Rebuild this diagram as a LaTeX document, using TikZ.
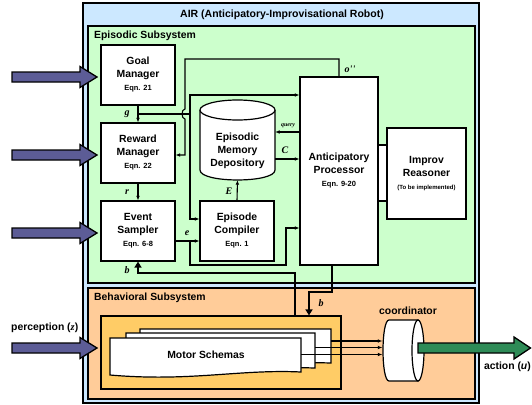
\documentclass[tikz,border=0pt]{standalone}
\usepackage{fontspec}
\setmainfont{Liberation Sans}
\newfontfamily\lblfont{Liberation Serif}
\usetikzlibrary{arrows.meta}
\definecolor{airblue}{RGB}{204,232,255}
\definecolor{epigreen}{RGB}{204,255,204}
\definecolor{behorange}{RGB}{255,204,153}
\definecolor{msyellow}{RGB}{255,204,102}
\definecolor{inpurple}{RGB}{92,92,150}
\definecolor{actgreen}{RGB}{46,139,87}
\newcommand{\eqnsz}{\fontsize{7.5}{9}\selectfont}
\begin{document}
\begin{tikzpicture}[x=1pt,y=-1pt,
  font=\bfseries\fontsize{10.4}{13}\selectfont,
  box/.style={draw, line width=1.2pt, fill=white, align=center, inner sep=0pt},
  cont/.style={draw, line width=1.2pt, inner sep=0pt},
  conn/.style={line width=1.1pt, -{Latex[length=4.5pt,width=3.8pt]}},
  plain/.style={line width=1.1pt},
  thickb/.style={line width=2.6pt, -{Triangle[length=6pt,width=7pt]}},
  lbl/.style={font=\lblfont\bfseries\itshape\fontsize{10}{12}\selectfont, inner sep=0pt},
  txt/.style={inner sep=0pt},
  fatarrow/.pic={\draw[line width=1.3pt, fill=inpurple, line join=miter] (0,-5) -- (68,-5) -- (68,-10.5) -- (85,0) -- (68,10.5) -- (68,5) -- (0,5) -- cycle;}
]
\useasboundingbox (0,0) rectangle (532,404);

% containers
\node[cont, line width=1.5pt, fill=airblue, minimum width=396pt, minimum height=400pt] (air) at (281,203) {};
\node[cont, fill=epigreen, minimum width=387pt, minimum height=257pt] (epi) at (281.5,154.5) {};
\node[cont, fill=behorange, minimum width=387pt, minimum height=111pt] (beh) at (281.5,343.5) {};
\node[txt, font=\bfseries\fontsize{10.5}{12}\selectfont] (title) at (282,15) {AIR (Anticipatory-Improvisational Robot)};
\node[txt, anchor=west] (epititle) at (94,36) {Episodic Subsystem};
\node[txt, anchor=west] (behtitle) at (94,298) {Behavioral Subsystem};

% boxes
\node[box, minimum width=74pt, minimum height=60pt] (goal) at (138,75) {Goal\\Manager\\\eqnsz Eqn. 21};
\node[box, minimum width=74pt, minimum height=60pt] (reward) at (138,153) {Reward\\Manager\\\eqnsz Eqn. 22};
\node[box, minimum width=74pt, minimum height=60pt] (event) at (138,231) {Event\\Sampler\\\eqnsz Eqn. 6-8};
\node[box, minimum width=74pt, minimum height=60pt] (compiler) at (237,231) {Episode\\Compiler\\\eqnsz Eqn. 1};
\node[box, minimum width=78pt, minimum height=188pt] (ap) at (339,171) {Anticipatory\\Processor\\\eqnsz Eqn. 9-20};
\node[box, minimum width=79pt, minimum height=91pt] (improv) at (426.5,173.5) {Improv\\Reasoner\\\fontsize{6}{8}\selectfont (To be implemented)};
\draw[line width=1.2pt, fill=white] (ap.east |- 0,145) rectangle (improv.west |- 0,201);

% memory cylinder
\draw[line width=1.2pt, fill=white] (200,110) -- (200,170) .. controls (200,183.3) and (275,183.3) .. (275,170) -- (275,110);
\draw[line width=1.2pt, fill=white] (237.5,110) ellipse [x radius=37.5, y radius=10];
\node[txt, align=center, minimum width=75pt, minimum height=80pt] (mem) at (237.5,140) {};
\node[txt, align=center] (memtext) at (237.5,151) {Episodic\\Memory\\Depository};

% behavioral: motor schemas
\node[cont, fill=msyellow, minimum width=240pt, minimum height=73pt] (ms) at (221,352.5) {};
\draw[line width=1.2pt, fill=white] (140,329) -- (331,329) -- (331,363) .. controls (270,361) and (220,373) .. (140,365) -- cycle;
\draw[line width=1.2pt, fill=white] (126,333) -- (315,333) -- (315,368) .. controls (255,366) and (205,378) .. (126,370) -- cycle;
\draw[line width=1.2pt, fill=white] (110,338) -- (301,338) -- (301,372) .. controls (240,369) and (190,382) .. (110,375) -- cycle;
\node[txt] (mstext) at (206,355) {Motor Schemas};

% coordinator
\node[txt, minimum width=41pt, minimum height=61pt] (coord) at (403,350.5) {};
\draw[line width=1.2pt, fill=white] (389,320) -- (418,320) -- (418,381) -- (389,381) .. controls (381,381) and (381,320) .. (389,320) -- cycle;
\draw[line width=1.2pt, fill=white] (418,350.5) ellipse [x radius=6, y radius=30.5];
\node[txt] (coordlbl) at (408,311) {coordinator};

% schema outputs
\draw[conn] (331,341) -- (coord.west |- 0,341);
\draw[conn] (315,347.5) -- (coord.west |- 0,347.5);
\draw[conn] (301,354.5) -- (coord.west |- 0,354.5);

% action arrow
\draw[line width=1.3pt, fill=actgreen, line join=miter] (418,343) -- (514,343) -- (514,337) -- (530.5,348) -- (514,359) -- (514,353) -- (418,353) -- cycle;
\node[txt, anchor=east] (actlbl) at (531,367) {action (\textit{u})};

% input arrows
\pic at (12,77) {fatarrow};
\pic at (12,155) {fatarrow};
\pic at (12,233) {fatarrow};
\pic at (12,348) {fatarrow};
\node[txt, anchor=west] (perc) at (11,328) {perception ({\lblfont\itshape z})};

% connectors
\draw[conn] (goal.south) -- (reward.north);
\draw[plain] (goal.south |- 0,114) -- (190,114);
\draw[conn] (190,114) |- (ap.west |- 0,95);
\draw[conn] (190,114) |- (compiler.west |- 0,219);
\draw[conn] (ap.north) -- (339,59) -- (185,59) -- (185,109) to[out=180,in=180] (185,119) -- (185,155) -- (reward.east |- 0,155);
\draw[conn] (reward.south) -- (event.north);
\draw[conn] (event.east |- 0,241) -- (compiler.west |- 0,241);
\draw[conn] (190,241) -- (190,265) -- (286,265) -- (286,228) -- (ap.west |- 0,228);
\draw[conn] (compiler.north) -- (mem.south);
\draw[conn] (mem.east |- 0,159) -- (ap.west |- 0,159);
\draw[conn] (ap.west |- 0,132) -- (mem.east |- 0,132);
\draw[thickb] (ap.south -| 332,0) -- (332,292) -- (309,292) -- (ms.north -| 309,0);
\draw[thickb] (ms.north -| 295,0) -- (295,273) -- (138,273) -- (event.south);

% labels
\node[lbl] (lg) at (127,114) {g};
\node[lbl] (lr) at (127,192) {r};
\node[lbl] (lb2) at (127,270) {b};
\node[lbl] (le) at (187,233) {e};
\node[lbl] (lE) at (229,191) {E};
\node[lbl] (lC) at (285,150) {C};
\node[lbl, font=\lblfont\bfseries\itshape\fontsize{6}{7}\selectfont] (lq) at (288,126) {query};
\node[lbl] (lo) at (350,69) {o\textquotesingle\textquotesingle};
\node[lbl] (lb1) at (321,303) {b};
\end{tikzpicture}
\end{document}
